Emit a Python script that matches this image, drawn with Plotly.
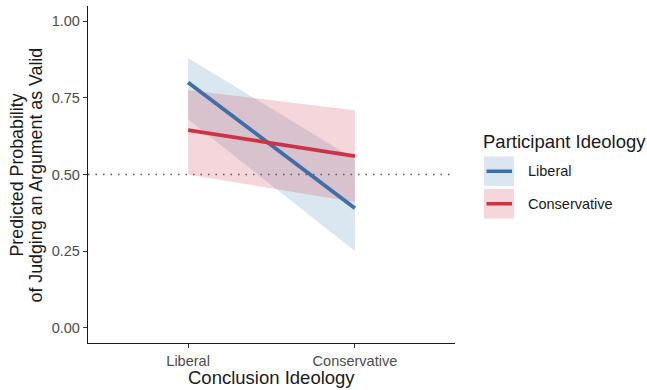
import plotly.graph_objects as go

# Predicted probabilities with 95% intervals, by conclusion ideology
conclusion = ["Liberal", "Conservative"]
participant = ["Liberal", "Conservative"]

lib_fit = [0.80, 0.39]
lib_lo = [0.68, 0.25]
lib_hi = [0.88, 0.55]

con_fit = [0.645, 0.56]
con_lo = [0.50, 0.41]
con_hi = [0.775, 0.71]

y_ticks = [0.0, 0.25, 0.5, 0.75, 1.0]
y_tick_labels = ["0.00", "0.25", "0.50", "0.75", "1.00"]
reference_level = 0.5

line_colors = {"Liberal": "#3F6FA9", "Conservative": "#CC3344"}
fill_colors = {"Liberal": "rgba(70,130,180,0.2)", "Conservative": "rgba(204,51,68,0.2)"}

W, H = 647, 390
ML, MR, MT, MB = 88, 192, 6, 47
PW, PH = W - ML - MR, H - MT - MB
FONT = "Liberation Sans, Arial, Helvetica, sans-serif"


def px_x(p):
    return (p - ML) / PW


def px_y(p):
    return (H - MB - p) / PH


fig = go.Figure()

series = {
    "Liberal": (lib_fit, lib_lo, lib_hi),
    "Conservative": (con_fit, con_lo, con_hi),
}

# ribbons first
for name in participant:
    fit, lo, hi = series[name]
    fig.add_trace(go.Scatter(
        x=conclusion + conclusion[::-1],
        y=hi + lo[::-1],
        fill="toself",
        fillcolor=fill_colors[name],
        line=dict(width=0),
        mode="lines",
        hoverinfo="skip",
        showlegend=False,
    ))

# fitted lines
for name in participant:
    fit, lo, hi = series[name]
    fig.add_trace(go.Scatter(
        x=conclusion, y=fit, mode="lines",
        line=dict(color=line_colors[name], width=3.8),
        name=name, showlegend=False,
    ))

# legend drawn by hand: shaded key with a line through it
legend_keys = [("Liberal", 156.5, 186), ("Conservative", 189, 218.5)]
shapes = []
annotations = []
for name, top, bot in legend_keys:
    shapes.append(dict(type="rect", xref="paper", yref="paper",
                       x0=px_x(484), x1=px_x(514), y0=px_y(bot), y1=px_y(top),
                       fillcolor=fill_colors[name], line=dict(width=0), layer="above"))
    mid = (top + bot) / 2
    shapes.append(dict(type="line", xref="paper", yref="paper",
                       x0=px_x(486.5), x1=px_x(512), y0=px_y(mid), y1=px_y(mid),
                       line=dict(color=line_colors[name], width=3.5), layer="above"))
    annotations.append(dict(text=name, xref="paper", yref="paper",
                            x=px_x(526), y=px_y(mid), xanchor="left", yanchor="middle",
                            showarrow=False, font=dict(family=FONT, size=14.5, color="#1a1a1a")))

# dotted reference line at 0.5, under the fitted lines
shapes.append(dict(type="line", xref="paper", yref="y",
                   x0=0, x1=1, y0=reference_level, y1=reference_level,
                   line=dict(color="#555555", width=1.6, dash="1.5px,6px"), layer="below"))

annotations.append(dict(text="Participant Ideology", xref="paper", yref="paper",
                        x=px_x(481), y=px_y(142), xanchor="left", yanchor="middle",
                        showarrow=False, font=dict(family=FONT, size=18.5, color="#1a1a1a")))

# axis titles
annotations.append(dict(text="Conclusion Ideology", xref="paper", yref="paper",
                        x=px_x(271), y=px_y(377), xanchor="center", yanchor="middle",
                        showarrow=False, font=dict(family=FONT, size=18.5, color="#1a1a1a")))
annotations.append(dict(text="Predicted Probability", xref="paper", yref="paper",
                        x=px_x(16.5), y=px_y(175), xanchor="center", yanchor="middle",
                        textangle=-90, showarrow=False,
                        font=dict(family=FONT, size=17.8, color="#1a1a1a")))
annotations.append(dict(text="of Judging an Argument as Valid", xref="paper", yref="paper",
                        x=px_x(35.5), y=px_y(175), xanchor="center", yanchor="middle",
                        textangle=-90, showarrow=False,
                        font=dict(family=FONT, size=17.8, color="#1a1a1a")))

fig.update_layout(
    width=W, height=H,
    margin=dict(l=ML, r=MR, t=MT, b=MB, pad=0),
    paper_bgcolor="white", plot_bgcolor="white",
    showlegend=False,
    shapes=shapes,
    annotations=annotations,
    font=dict(family=FONT),
)

fig.update_xaxes(
    type="category", categoryorder="array", categoryarray=conclusion,
    range=[-0.6, 1.6],
    showline=True, linecolor="#1a1a1a", linewidth=1.3,
    ticks="outside", ticklen=4, tickcolor="#333333", tickwidth=1.1,
    tickfont=dict(family=FONT, size=14.5, color="#4D4D4D"),
    showgrid=False, zeroline=False,
)
fig.update_yaxes(
    range=[-0.05, 1.05],
    tickvals=y_ticks, ticktext=y_tick_labels,
    showline=True, linecolor="#1a1a1a", linewidth=1.3,
    ticks="outside", ticklen=4, tickcolor="#333333", tickwidth=1.1,
    tickfont=dict(family=FONT, size=14.5, color="#4D4D4D"),
    showgrid=False, zeroline=False,
)

fig.write_html("out.html")
